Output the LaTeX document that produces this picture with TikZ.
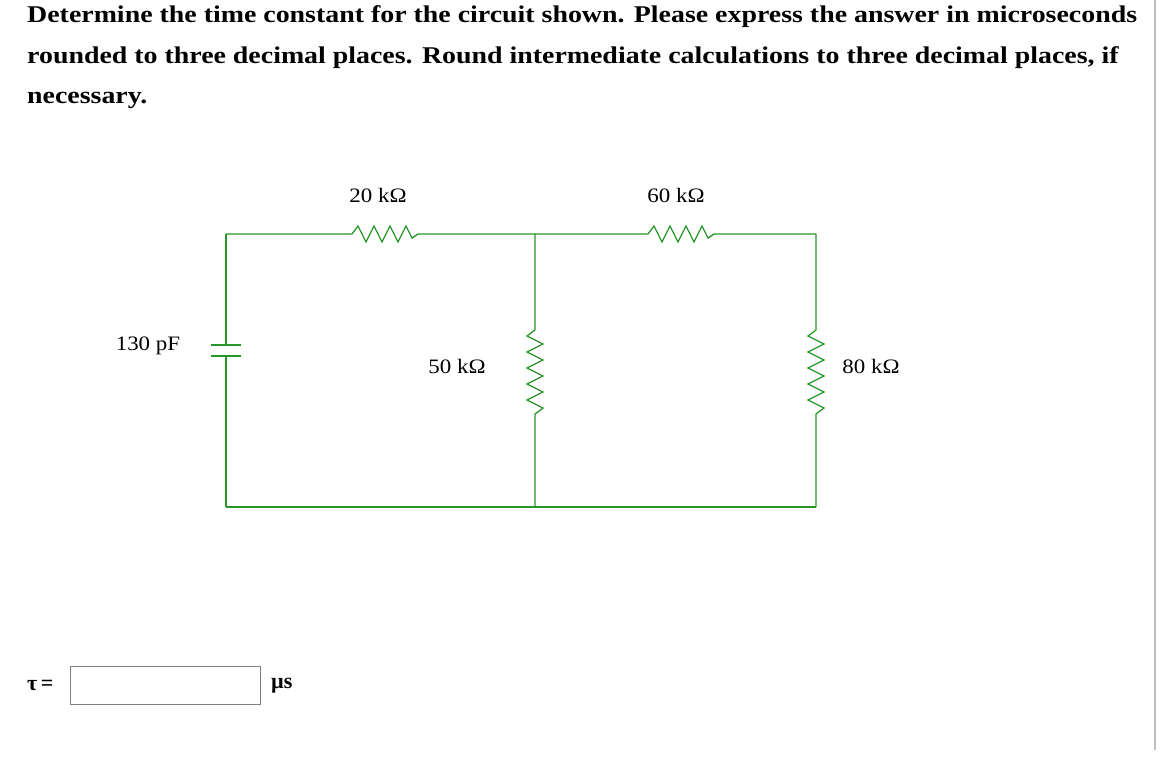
\documentclass[tikz,border=0pt]{standalone}
\usepackage{fontspec}
\setmainfont{Liberation Serif}
\begin{document}
\begin{tikzpicture}[x=1pt,y=-1pt,
  wire/.style={draw={rgb,255:red,40;green,150;blue,40},line width=1.3pt},
  lbl/.style={font=\fontsize{20.5}{22}\selectfont,inner sep=0pt},
  q/.style={font=\bfseries\fontsize{24}{26}\selectfont,anchor=west,inner sep=0pt}]
\useasboundingbox (0,0) rectangle (1160,762);
\node[q] (l1) at (27,17) {\scalebox{1.162}[1]{Determine the time constant for the circuit shown. Please express the answer in microseconds}};
\node[q] (l2) at (27,58) {\scalebox{1.162}[1]{rounded to three decimal places. Round intermediate calculations to three decimal places, if}};
\node[q] (l3) at (27,100) {\scalebox{1.162}[1]{necessary.}};
\draw[gray!50,line width=1.5pt] (1155,0) -- (1155,750);
\coordinate (tl) at (226,234); \coordinate (tm) at (535,234); \coordinate (tr) at (816,234);
\coordinate (bl) at (226,507); \coordinate (bm) at (535,507); \coordinate (br) at (816,507);
\draw[wire] (tl) -- (352,234) -- (358,226) -- (366,242) -- (374,226) -- (382,242) -- (390,226) -- (398,242) -- (406,226) -- (412,238) -- (418,234) -- (tm);
\draw[wire] (tm) -- (648,234) -- (654,226) -- (662,242) -- (670,226) -- (678,242) -- (686,226) -- (694,242) -- (702,226) -- (708,238) -- (714,234) -- (tr);
\draw[wire] (tl) -- (226,345); \draw[wire] (211,345) -- (241,345);
\draw[wire] (211,356) -- (241,356); \draw[wire] (226,356) -- (bl);
\draw[wire] (tm) -- (535,330) -- (527,336) -- (543,344) -- (527,352) -- (543,360) -- (527,368) -- (543,376) -- (527,384) -- (543,392) -- (527,400) -- (543,408) -- (535,414) -- (bm);
\draw[wire] (tr) -- (816,330) -- (808,336) -- (824,344) -- (808,352) -- (824,360) -- (808,368) -- (824,376) -- (808,384) -- (824,392) -- (808,400) -- (824,408) -- (816,414) -- (br);
\draw[wire] (bl) -- (bm) -- (br);
\node[lbl] (r1) at (378,195) {\scalebox{1.12}[1]{20 kΩ}};
\node[lbl] (r2) at (676,195) {\scalebox{1.12}[1]{60 kΩ}};
\node[lbl] (c) at (148,346) {\scalebox{1.12}[1]{130 pF}};
\node[lbl] (r3) at (457,366) {\scalebox{1.12}[1]{50 kΩ}};
\node[lbl] (r4) at (871,366) {\scalebox{1.12}[1]{80 kΩ}};
\node[lbl,anchor=west,font=\bfseries\fontsize{22}{24}\selectfont] (tau) at (27,685) {τ\,=};
\node[draw=gray,line width=0.8pt,minimum width=190pt,minimum height=38pt,inner sep=0pt] (box) at (165,685) {};
\node[lbl,anchor=west,font=\bfseries\fontsize{22}{24}\selectfont] (u) at (271,686) {µs};
\end{tikzpicture}
\end{document}
